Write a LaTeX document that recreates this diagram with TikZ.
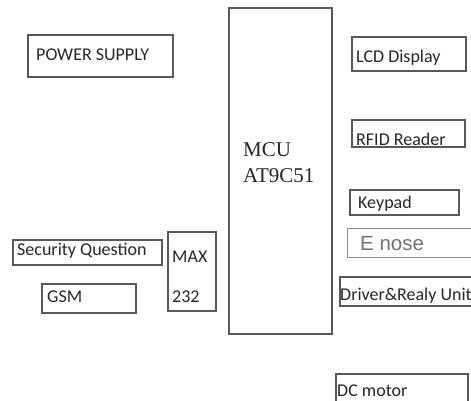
\documentclass[tikz,border=0pt]{standalone}
\usepackage{fontspec}
\newfontfamily\califont{Carlito}
\newfontfamily\timesfont{Liberation Serif}
\newfontfamily\arialfont{Liberation Sans}
\usepackage{tikz}
\tikzset{
  blk/.style    = {draw=black!65, line width=1.6pt},
  lbl/.style    = {font=\califont\fontsize{18}{20}\selectfont, anchor=base west, inner sep=0pt, text=black!85},
  mcutxt/.style = {font=\timesfont\fontsize{21}{24}\selectfont, anchor=base west, inner sep=0pt, text=black!85},
  greytxt/.style= {font=\arialfont\fontsize{20.5}{23}\selectfont, anchor=base west, inner sep=0pt, text=black!55},
}

\begin{document}
\begin{tikzpicture}[x=1pt,y=-1pt]
  \useasboundingbox (0,0) rectangle (471,400);
  \clip (0,0) rectangle (471,400);

  % left side
  \draw[blk] (28,35) rectangle (173,77);
  \node[lbl] (pwr) at (36,60) {POWER SUPPLY};
  \draw[blk] (13,240) rectangle (162,265);
  \node[lbl] (secq) at (17,255) {Security Question};
  \draw[blk] (42,284) rectangle (136,313);
  \node[lbl] (gsm) at (47,302) {GSM};
  \draw[blk] (168,232) rectangle (216,311);
  \node[lbl] (max) at (172,262) {MAX};
  \node[lbl] (maxnum) at (172,302) {232};

  % controller
  \draw[blk] (229,8) rectangle (332,334);
  \node[mcutxt] (mcu) at (243,156) {MCU};
  \node[mcutxt] (mcutype) at (243,182) {AT9C51};

  % right side
  \draw[blk] (352,37) rectangle (466,71);
  \node[lbl] (lcd) at (356,62) {LCD Display};
  \draw[blk] (352,120) rectangle (465,147);
  \node[lbl] (rfid) at (356,145) {RFID Reader};
  \draw[blk] (350,190) rectangle (459,215);
  \node[lbl] (keypad) at (358,208) {Keypad};
  \draw[blk, draw=black!45, line width=1pt] (347,228) rectangle (480,257);
  \node[greytxt] (enose) at (360,250) {E nose};
  \draw[blk] (340,277) rectangle (480,306);
  \node[lbl] (relay) at (340,300) {Driver\&Realy Unit};
  \draw[blk] (336,374) rectangle (468,420);
  \node[lbl] (motor) at (337,396) {DC motor};
\end{tikzpicture}
\end{document}
